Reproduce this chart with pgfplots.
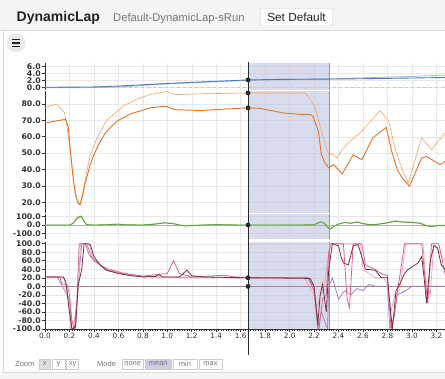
\documentclass[border=0pt]{standalone}
\usepackage{pgfplots}
\pgfplotsset{compat=1.18}
\usepackage{fontspec}
\setmainfont{Liberation Sans}
\newfontfamily\tickfont{DejaVu Sans}
\definecolor{hdrbg}{HTML}{F4F4F4}
\definecolor{hdrline}{HTML}{DADADA}
\definecolor{txtdark}{HTML}{222222}
\definecolor{txtgray}{HTML}{777777}
\definecolor{axisc}{HTML}{333333}
\definecolor{gridc}{HTML}{E8E8E8}
\definecolor{shadec}{HTML}{B3BBDA}
\definecolor{shadeedge}{HTML}{8A93B5}
\definecolor{blueA}{HTML}{4A7DB8}
\definecolor{blueB}{HTML}{9DB8DA}
\definecolor{orA}{HTML}{E0752D}
\definecolor{orB}{HTML}{F2A468}
\definecolor{grA}{HTML}{5FA040}
\definecolor{grB}{HTML}{A3CF8C}
\definecolor{pk1}{HTML}{7A2E3E}
\definecolor{pk2}{HTML}{D9668A}
\definecolor{pk3}{HTML}{F2A0B4}
\definecolor{pk4}{HTML}{9C7CC4}
\definecolor{pk0}{HTML}{B07A90}
\definecolor{curs}{HTML}{2A2A2A}
\definecolor{btnfill}{HTML}{DEDEDE}
\definecolor{btnline}{HTML}{CCCCCC}
\definecolor{meanfill}{HTML}{CBCFE6}
\definecolor{hamb}{HTML}{E9E9E9}
\pgfplotsset{
  panel/.style={
    scale only axis, width=400pt, xmin=0, xmax=3.2706,
    axis lines*=left, separate axis lines,
    xtick={0,0.2,0.4,0.6,0.8,1.0,1.2,1.4,1.6,1.8,2.0,2.2,2.4,2.6,2.8,3.0,3.2},
    grid=major, grid style={gridc, line width=0.4pt},
    tick align=outside, major tick length=3pt,
    y axis line style={axisc, line width=0.8pt},
    x axis line style={draw=none},
    xtick style={draw=none}, xticklabels={},
    ytick style={axisc, line width=0.6pt},
    yticklabel style={font=\tickfont\bfseries\fontsize{7.8}{7.8}\selectfont, text=axisc, inner sep=1pt},
    /pgf/number format/fixed, /pgf/number format/zerofill,
    /pgf/number format/precision=1, /pgf/number format/assume math mode=true,
  },
}
\newcommand{\shaderegion}{%
  \fill[shadec, fill opacity=0.5] ({axis cs:1.66,0}|-{rel axis cs:0,0}) rectangle ({axis cs:2.322,0}|-{rel axis cs:0,1});
  \draw[shadeedge, line width=0.8pt] ({axis cs:2.322,0}|-{rel axis cs:0,0}) -- ({axis cs:2.322,0}|-{rel axis cs:0,1});
}
\begin{document}
\begin{tikzpicture}[x=1pt,y=1pt]
\path[use as bounding box] (0,0) rectangle (445,379);
\fill[white] (0,0) rectangle (445,379);
% header
\fill[hdrbg] (0,349) rectangle (445,379);
\draw[hdrline] (0,349) -- (445,349);
\node[anchor=base west, inner sep=0, font=\bfseries\fontsize{14}{14}\selectfont, text=txtdark] at (16.5,357.3) {DynamicLap};
\node[anchor=base west, inner sep=0, font=\fontsize{11.2}{11.2}\selectfont, text=txtgray] at (113,357.5) {Default-DynamicLap-sRun};
\draw[fill=white, draw=btnline, rounded corners=2pt] (260.5,353) rectangle (332.5,370.5);
\node[font=\fontsize{11.8}{11.8}\selectfont, text=txtdark] at (296.5,361.5) {Set Default};
% card borders
\fill[hdrbg] (0,0) rectangle (445,6.5);
\draw[hdrline] (3,6.5) -- (445,6.5);
\draw[hdrline] (3,6.5) -- (3,349);
% hamburger
\fill[hamb] (16,336) circle (9.5);
\draw[txtdark, line width=1.3pt] (12,339.3) -- (20,339.3) (12,336) -- (20,336) (12,332.7) -- (20,332.7);

% ---------- panel 1 (blue)
\begin{axis}[panel, at={(45pt,289pt)}, anchor=south west, height=27pt,
  ymin=-0.77, ymax=6.94, ytick={0,2,4,6}]
\shaderegion
\addplot[gray!45, dashed, line width=0.6pt] coordinates {(0,0) (3.27,0)};
\addplot[blueB, line width=0.8pt] coordinates {(0,-0.1) (0.3,-0.1) (0.5,0) (0.7,0.3) (0.9,0.8) (1.2,1.3) (1.66,2.0) (2.0,2.2) (2.32,2.4) (2.7,2.8) (3.0,3.1) (3.27,3.5)};
\addplot[blueA, line width=0.9pt] coordinates {(0,0) (0.2,0.05) (0.4,0.1) (0.6,0.35) (0.8,0.7) (1.0,1.1) (1.2,1.4) (1.4,1.7) (1.66,2.1) (1.9,2.25) (2.32,2.35) (2.6,2.45) (2.9,2.6) (3.27,2.8)};
\addplot[only marks, mark=*, mark size=2.2pt, mark options={fill=curs, draw=curs}] coordinates {(1.66,2.1)};
\end{axis}

% ---------- panel 2 (orange)
\begin{axis}[panel, at={(45pt,166pt)}, anchor=south west, height=121.5pt,
  ymin=13.5, ymax=87.6, ytick={20,30,40,50,60,70,80}]
\shaderegion
\addplot[orB, line width=0.6pt] coordinates {(0,77.6) (0.05,79) (0.096,80) (0.16,74.5) (0.18,66) (0.2,55) (0.22,42) (0.24,30) (0.26,22) (0.286,18.6) (0.31,26) (0.34,38) (0.37,49) (0.43,60) (0.5,69.6) (0.64,78.8) (0.75,83) (0.86,85.7) (0.995,87.7) (1.06,85.7) (1.3,86.2) (1.66,86.7) (2.126,86.7) (2.17,83) (2.21,77.6) (2.26,63.4) (2.32,49) (2.35,49.3) (2.385,47) (2.43,52) (2.48,56.2) (2.59,63.4) (2.74,75.9) (2.81,69.4) (2.86,53.2) (2.92,40) (2.97,31.8) (3.08,59.3) (3.16,52.1) (3.27,62.3)};
\addplot[orA, line width=0.9pt] coordinates {(0,68.4) (0.08,69.5) (0.15,70.4) (0.17,70.5) (0.19,66) (0.21,50) (0.23,35) (0.25,24) (0.27,19.5) (0.286,18.6) (0.3,22) (0.33,32) (0.37,43) (0.4,49) (0.45,57) (0.5,63) (0.586,69.4) (0.7,74) (0.86,77.6) (0.97,78.6) (1.0,78.3) (1.06,76.5) (1.27,76) (1.5,77) (1.66,77.6) (1.76,77.3) (1.95,74.5) (2.08,73.7) (2.17,73.5) (2.19,72.5) (2.235,63.4) (2.26,49) (2.29,44) (2.32,41) (2.36,43) (2.43,37.3) (2.52,49) (2.59,46) (2.68,59.3) (2.79,65.8) (2.835,51) (2.88,40) (2.92,34.9) (2.98,29.8) (3.08,47) (3.12,48) (3.23,43) (3.27,45)};
\addplot[only marks, mark=*, mark size=2.2pt, mark options={fill=curs, draw=curs}] coordinates {(1.66,86.7) (1.66,77.6)};
\end{axis}

% ---------- panel 3 (green)
\begin{axis}[panel, at={(45pt,139.5pt)}, anchor=south west, height=25.5pt,
  ymin=-170, ymax=130, ytick={-100,0,100}]
\shaderegion
\addplot[gray!60, line width=0.4pt] coordinates {(0,0) (3.27,0)};
\addplot[grB, line width=0.8pt] coordinates {(0,0) (0.2,0) (0.23,15) (0.26,70) (0.29,95) (0.31,60) (0.34,5) (0.4,0) (0.5,5) (0.6,12) (0.68,2) (0.8,3) (0.9,15) (0.98,30) (1.05,20) (1.12,-5) (1.18,-8) (1.3,3) (1.4,8) (1.5,2) (1.66,0) (2.0,2) (2.2,5) (2.25,40) (2.28,30) (2.31,-5) (2.33,-40) (2.37,-10) (2.4,15) (2.46,35) (2.5,25) (2.56,40) (2.6,20) (2.65,8) (2.72,10) (2.8,30) (2.86,50) (2.92,40) (3.0,35) (3.07,25) (3.1,5) (3.15,-15) (3.2,-5) (3.27,0)};
\addplot[grA, line width=0.9pt] coordinates {(0,0) (0.2,0) (0.23,20) (0.26,80) (0.28,100) (0.3,105) (0.32,40) (0.34,5) (0.4,0) (0.5,3) (0.6,10) (0.65,3) (0.8,0) (0.9,10) (0.98,25) (1.05,15) (1.1,0) (1.15,-12) (1.2,-5) (1.3,0) (1.4,5) (1.5,2) (1.66,0) (2.0,0) (2.2,2) (2.25,35) (2.28,25) (2.3,-10) (2.33,-50) (2.36,-15) (2.4,10) (2.45,30) (2.5,20) (2.55,35) (2.6,15) (2.65,5) (2.7,5) (2.8,25) (2.86,45) (2.92,35) (3.0,30) (3.07,20) (3.1,0) (3.15,-20) (3.2,-10) (3.27,-5)};
\addplot[only marks, mark=*, mark size=2.2pt, mark options={fill=curs, draw=curs}] coordinates {(1.66,0)};
\end{axis}

% ---------- panel 4 (pink)
\begin{axis}[panel, at={(45pt,50pt)}, anchor=south west, height=87pt,
  ymin=-100, ymax=104, ytick={-100,-80,-60,-40,-20,0,20,40,60,80,100},
  x axis line style={axisc, line width=0.8pt, draw=axisc},
  xtick style={axisc, draw=axisc, line width=0.6pt},
  minor x tick num=9, minor tick length=1.6pt,
  minor x tick style={axisc, line width=0.4pt},
  xticklabels={0.0,0.2,0.4,0.6,0.8,1.0,1.2,1.4,1.6,1.8,2.0,2.2,2.4,2.6,2.8,3.0,3.2},
  xticklabel style={font=\tickfont\fontsize{7.3}{7.3}\selectfont, text=axisc, inner sep=1pt}]
\shaderegion
\addplot[pk0, line width=0.6pt] coordinates {(0,0) (3.27,0)};
\addplot[pk4, line width=0.7pt] coordinates {(0,22) (0.1,22) (0.2,-30) (0.22,-100) (0.25,-100) (0.27,0) (0.3,100) (0.34,100) (0.38,70) (0.5,38) (0.7,26) (0.9,22) (1.66,20) (2.15,20) (2.2,0) (2.23,-100) (2.26,-60) (2.31,-100) (2.32,0) (2.35,20) (2.4,-30) (2.45,-10) (2.5,-20) (2.55,-5) (2.6,-10) (2.65,5) (2.7,0) (2.8,0) (2.82,-100) (2.85,-80) (2.88,-20) (2.95,-10) (3.0,0) (3.27,0)};
\addplot[pk3, line width=0.7pt] coordinates {(0,22) (0.15,22) (0.18,-5) (0.21,-100) (0.23,-100) (0.27,-20) (0.29,100) (0.36,100) (0.4,62) (0.5,40) (0.6,33) (0.8,22) (1.0,22) (1.66,20) (2.12,20) (2.2,-20) (2.22,-50) (2.28,0) (2.33,100) (2.58,100) (2.6,40) (2.65,30) (2.7,20) (2.77,20) (2.8,0) (2.82,-70) (2.86,-20) (2.9,-10) (2.95,100) (3.09,100) (3.12,0) (3.15,-20) (3.18,100) (3.27,60)};
\addplot[pk2, line width=0.8pt] coordinates {(0,22) (0.12,22) (0.14,5) (0.18,5) (0.2,-20) (0.22,-80) (0.24,-100) (0.26,-40) (0.28,100) (0.33,100) (0.36,75) (0.4,60) (0.5,42) (0.6,34) (0.62,32) (0.7,28) (0.8,24) (1.0,30) (1.05,60) (1.1,30) (1.2,22) (1.47,26) (1.55,22) (1.66,21) (2.1,20) (2.15,20) (2.2,-10) (2.24,-100) (2.27,-30) (2.3,-20) (2.32,80) (2.34,100) (2.44,100) (2.47,-30) (2.49,-50) (2.52,100) (2.59,100) (2.62,50) (2.68,42) (2.75,30) (2.8,25) (2.83,-100) (2.86,-60) (2.88,-15) (2.92,60) (2.94,100) (3.08,100) (3.1,40) (3.13,-40) (3.16,100) (3.22,100) (3.27,30)};
\addplot[pk1, line width=0.8pt] coordinates {(0,22) (0.15,22) (0.17,10) (0.2,-60) (0.22,-100) (0.25,-95) (0.27,0) (0.3,40) (0.32,100) (0.35,100) (0.37,98) (0.4,70) (0.45,50) (0.5,38) (0.6,30) (0.7,25) (0.8,22) (0.9,23) (0.93,28) (0.96,22) (1.1,22) (1.16,38) (1.2,25) (1.3,22) (1.66,20) (2.1,19) (2.17,18) (2.2,0) (2.23,-90) (2.25,-20) (2.27,5) (2.3,-60) (2.32,40) (2.35,100) (2.4,95) (2.42,70) (2.44,55) (2.48,50) (2.52,95) (2.56,98) (2.6,60) (2.62,40) (2.7,38) (2.75,20) (2.8,20) (2.82,-40) (2.84,-100) (2.87,-10) (2.9,5) (2.94,30) (2.97,40) (3.0,45) (3.05,55) (3.08,70) (3.1,20) (3.12,-40) (3.15,60) (3.18,95) (3.21,90) (3.24,50) (3.27,40)};
\addplot[only marks, mark=*, mark size=2.2pt, mark options={fill=curs, draw=curs}] coordinates {(1.66,20) (1.66,0)};
\end{axis}

% cursor line
\draw[curs, line width=1pt] (248,24) -- (248,317);

% bottom controls
\node[anchor=base west, inner sep=0, font=\fontsize{7.5}{7.5}\selectfont, text=txtgray] at (15,12.5) {Zoom};
\draw[fill=btnfill, draw=btnline] (39,10) rectangle (50.5,20);
\node[font=\fontsize{7.5}{7.5}\selectfont, text=txtgray] at (44.75,15) {x};
\draw[fill=white, draw=btnline] (52,10) rectangle (65,20);
\node[font=\fontsize{7.5}{7.5}\selectfont, text=txtgray] at (58.5,15) {y};
\draw[fill=white, draw=btnline] (66.5,10) rectangle (78.5,20);
\node[font=\fontsize{7.5}{7.5}\selectfont, text=txtgray] at (72.5,15) {xy};
\node[anchor=base west, inner sep=0, font=\fontsize{7.5}{7.5}\selectfont, text=txtgray] at (97,12.5) {Mode};
\draw[fill=white, draw=btnline] (122,10) rectangle (143.5,20);
\node[font=\fontsize{7.5}{7.5}\selectfont, text=txtgray] at (132.75,15) {none};
\draw[fill=meanfill, draw=btnline] (145,10) rectangle (171.5,20);
\node[font=\fontsize{7.5}{7.5}\selectfont, text=txtgray] at (158.25,15) {mean};
\draw[fill=white, draw=btnline] (173,10) rectangle (197,20);
\node[font=\fontsize{7.5}{7.5}\selectfont, text=txtgray] at (185,15) {min};
\draw[fill=white, draw=btnline] (199,10) rectangle (222,20);
\node[font=\fontsize{7.5}{7.5}\selectfont, text=txtgray] at (210.5,15) {max};
\end{tikzpicture}
\end{document}
